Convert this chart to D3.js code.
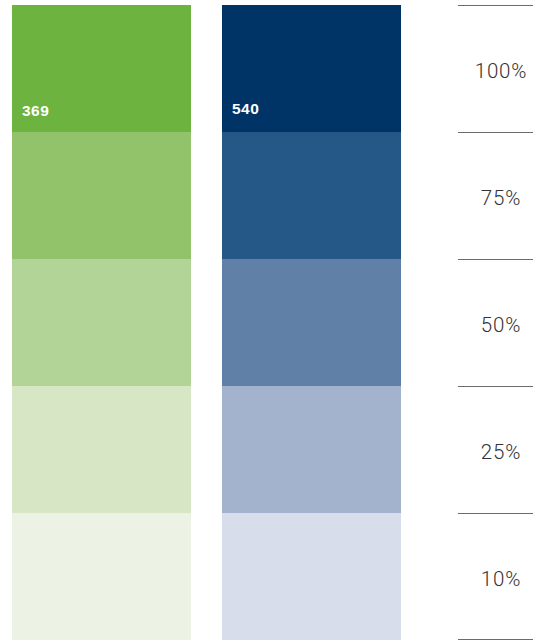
<!DOCTYPE html>
<html>
<head>
<meta charset="utf-8">
<script src="https://cdn.jsdelivr.net/npm/d3@7"></script>
<style>
body { margin: 0; background: #fff; }
</style>
</head>
<body>
<svg width="533" height="640"></svg>
<script>
// rows from top to bottom
var levels = ["100%", "75%", "50%", "25%", "10%"];
var columns = ["green", "blue"];
var totals = [369, 540];
var greenShades = ["#6db33f", "#92c36a", "#b2d497", "#d7e7c6", "#ecf3e5"];
var blueShades = ["#003466", "#255787", "#6080a8", "#a3b3ce", "#d7ddea"];

var svg = d3.select("svg"),
width = +svg.attr("width"),
height = +svg.attr("height");

var yScale = d3.scaleBand().domain(levels).range([5, 640]);
var xScale = d3.scaleBand().domain(columns).range([12, 401]).paddingInner(31 / 210);

var shades = { green: greenShades, blue: blueShades };

columns.forEach(function (c, ci) {
    svg.append("g")
    .selectAll("rect")
    .data(levels)
    .enter()
    .append("rect")
    .attr("x", xScale(c))
    .attr("y", function (d) { return yScale(d); })
    .attr("width", xScale.bandwidth())
    .attr("height", yScale.bandwidth())
    .attr("fill", function (d, i) { return shades[c][i]; });

    svg.append("text")
    .attr("x", xScale(c) + 10)
    .attr("y", yScale(levels[0]) + yScale.bandwidth() - 16 - (ci === 1 ? 2 : 0))
    .attr("font-family", "Liberation Sans, Arial, sans-serif")
    .attr("font-weight", "bold")
    .attr("font-size", "15.5px")
    .attr("letter-spacing", "0.5px")
    .attr("fill", "#fff")
    .text(totals[ci]);
});

// right side labels with separators
var lineX0 = 458, lineX1 = 533;
var bounds = levels.map(function (d) { return yScale(d); });
bounds.push(yScale(levels[levels.length - 1]) + yScale.bandwidth() - 1);

svg.append("g")
.selectAll("line")
.data(bounds)
.enter()
.append("line")
.attr("x1", lineX0)
.attr("x2", lineX1)
.attr("y1", function (d) { return Math.round(d) + 0.5; })
.attr("y2", function (d) { return Math.round(d) + 0.5; })
.attr("stroke", "#6b6b6b")
.attr("stroke-width", 1);

svg.append("g")
.selectAll("text")
.data(levels)
.enter()
.append("text")
.attr("x", 501)
.attr("y", function (d) { return yScale(d) + yScale.bandwidth() / 2 + 9; })
.attr("text-anchor", "middle")
.attr("font-family", "Roboto, sans-serif")
.attr("font-weight", 300)
.attr("font-size", "20.5px")
.attr("letter-spacing", "0.8px")
.attr("fill", "#333")
.text(function (d) { return d; });
</script>
</body>
</html>
